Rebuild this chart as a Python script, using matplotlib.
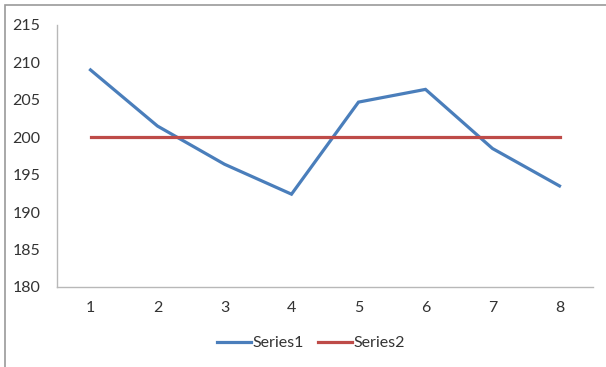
import numpy as np
import matplotlib.pyplot as plt
from matplotlib.patches import Rectangle

plt.rcParams['font.family'] = ['Lato', 'DejaVu Sans']

# Data
x = [1, 2, 3, 4, 5, 6, 7, 8]
series1 = [209.0, 201.5, 196.4, 192.4, 204.7, 206.4, 198.5, 193.5]
series2 = [200, 200, 200, 200, 200, 200, 200, 200]
yticks = [180, 185, 190, 195, 200, 205, 210, 215]

W, H = 606, 367
fig = plt.figure(figsize=(W / 100, H / 100), dpi=100)

# chart frame (left/top edges visible)
fig.patches.append(Rectangle((5 / W, -0.1), 1.2, 1 - 5 / H + 0.1, transform=fig.transFigure,
                             fill=False, edgecolor='#9a9a9a', linewidth=1.2))

ax = fig.add_axes([57 / W, 1 - 287 / H, (593 - 57) / W, (287 - 25) / H])
ax.plot(x, series1, color='#4A7EBB', linewidth=2.3, label='Series1', solid_joinstyle='miter')
ax.plot(x, series2, color='#BE4B48', linewidth=2.3, label='Series2')

ax.set_xlim(0.5, 8.5)
ax.set_ylim(180, 215)
ax.set_xticks(x)
ax.set_yticks(yticks)
ax.tick_params(length=0, labelsize=11.5, colors='#333333')
ax.tick_params(axis='x', pad=10)
ax.tick_params(axis='y', pad=12)

for s in ['top', 'right']:
    ax.spines[s].set_visible(False)
for s in ['left', 'bottom']:
    ax.spines[s].set_color('#b8b8b8')
    ax.spines[s].set_linewidth(1)

fig.legend(loc='center', bbox_to_anchor=(311 / W, 1 - 343 / H), ncol=2, frameon=False,
           fontsize=11.5, handlelength=2.1, handletextpad=0.1, columnspacing=0.9,
           labelcolor='#333333')

fig.savefig('out.png', dpi=100)
